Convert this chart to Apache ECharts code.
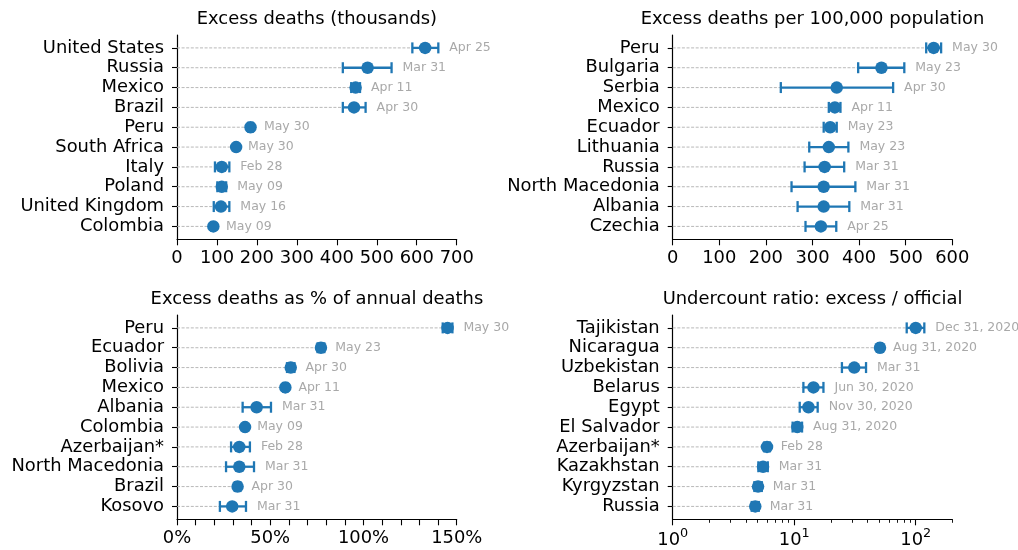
<!DOCTYPE html>
<html><head><meta charset="utf-8">
<script src="https://cdn.jsdelivr.net/npm/echarts@6/dist/echarts.min.js"></script>
<style>html,body{margin:0;padding:0;background:#fff}#c{width:1018px;height:550px}</style>
</head><body><div id="c"></div>
<script>
// Panel 1: Excess deaths (thousands)
const names1 = ['United States','Russia','Mexico','Brazil','Peru','South Africa','Italy','Poland','United Kingdom','Colombia'];
const vals1  = [621, 477, 447, 443, 184, 148, 112, 112, 110, 91];
const lo1    = [589, 415, 436, 415, 178, 146, 95, 101, 92, 86];
const hi1    = [654, 537, 458, 472, 190, 150, 131, 123, 131, 95];
const dates1 = ['Apr 25','Mar 31','Apr 11','Apr 30','May 30','May 30','Feb 28','May 09','May 16','May 09'];

// Panel 2: Excess deaths per 100,000 population
const names2 = ['Peru','Bulgaria','Serbia','Mexico','Ecuador','Lithuania','Russia','North Macedonia','Albania','Czechia'];
const vals2  = [560, 448, 352, 348, 338, 335, 326, 324, 324, 318];
const lo2    = [544, 398, 232, 335, 324, 293, 283, 255, 268, 285];
const hi2    = [576, 497, 473, 360, 352, 377, 368, 392, 379, 351];
const dates2 = ['May 30','May 23','Apr 30','Apr 11','May 23','May 23','Mar 31','Mar 31','Mar 31','Apr 25'];

// Panel 3: Excess deaths as % of annual deaths
const names3 = ['Peru','Ecuador','Bolivia','Mexico','Albania','Colombia','Azerbaijan*','North Macedonia','Brazil','Kosovo'];
const vals3  = [145.1, 77.2, 61, 58.1, 42.7, 36.5, 33.4, 33.4, 32.5, 29.6];
const lo3    = [142.5, 75.4, 59, 57, 35.2, 35.9, 29, 26.3, 31, 23];
const hi3    = [147.7, 79, 63, 59.2, 50.4, 37.1, 39.1, 41.3, 34, 37];
const dates3 = ['May 30','May 23','Apr 30','Apr 11','Mar 31','May 09','Feb 28','Mar 31','Apr 30','Mar 31'];

// Panel 4: Undercount ratio: excess / official
const names4 = ['Tajikistan','Nicaragua','Uzbekistan','Belarus','Egypt','El Salvador','Azerbaijan*','Kazakhstan','Kyrgyzstan','Russia'];
const vals4  = [100, 50.8, 31.2, 14.4, 13.1, 10.6, 5.97, 5.54, 5.04, 4.78];
const lo4    = [84.3, 49, 24.7, 11.9, 11.1, 9.7, 5.65, 5.07, 4.7, 4.47];
const hi4    = [117.7, 52.8, 39, 17.4, 15.6, 11.6, 6.3, 6.06, 5.41, 5.11];
const dates4 = ['Dec 31, 2020','Aug 31, 2020','Mar 31','Jun 30, 2020','Nov 30, 2020','Aug 31, 2020','Feb 28','Mar 31','Mar 31','Mar 31'];

const titles = ['Excess deaths (thousands)','Excess deaths per 100,000 population','Excess deaths as % of annual deaths','Undercount ratio: excess / official'];
const logMajor = [1, 10, 100];
const logMinor = [2,3,4,5,6,7,8,9,20,30,40,50,60,70,80,90,200];

const FONT = '"DejaVu Sans", sans-serif';
const BLUE = '#1f77b4';
const FS = 17.9;

const panels = [
  {names:names1, vals:vals1, lo:lo1, hi:hi1, dates:dates1, xmin:0},
  {names:names2, vals:vals2, lo:lo2, hi:hi2, dates:dates2, xmin:0},
  {names:names3, vals:vals3, lo:lo3, hi:hi3, dates:dates3, xmin:0},
  {names:names4, vals:vals4, lo:lo4, hi:hi4, dates:dates4, xmin:1}
];

const grids = [
  {left:177, top:35, width:279.7, height:204.3},
  {left:672.7, top:35, width:279.6, height:204.3},
  {left:177, top:315, width:279.7, height:204.3},
  {left:672.7, top:315, width:279.6, height:204.3}
];

const rowIdx = [0,1,2,3,4,5,6,7,8,9];

const baseX = {
  axisLine:{show:true, onZero:false, lineStyle:{color:'#000', width:1.2}},
  axisTick:{show:true, length:6, lineStyle:{color:'#000', width:1.1}},
  splitLine:{show:false},
  axisLabel:{color:'#000', fontSize:FS, fontFamily:FONT, margin:10}
};

const xAxes = [
  Object.assign({}, baseX, {gridIndex:0, type:'value', min:0, max:700, interval:100}),
  Object.assign({}, baseX, {gridIndex:1, type:'value', min:0, max:600, interval:100}),
  Object.assign({}, baseX, {gridIndex:2, type:'value', min:0, max:150, interval:10,
    axisLabel:Object.assign({}, baseX.axisLabel, {formatter: v => (v % 50 === 0 ? v + '%' : '')})}),
  Object.assign({}, baseX, {gridIndex:3, type:'log', logBase:10, min:1, max:200, position:'bottom',
    axisTick:Object.assign({}, baseX.axisTick, {customValues:logMajor}),
    axisLabel:Object.assign({}, baseX.axisLabel, {customValues:logMajor, margin:8,
      formatter: v => '{b|10}{s|' + Math.round(Math.log10(v)) + '}',
      rich:{b:{fontSize:FS, fontFamily:FONT, color:'#000', lineHeight:22, verticalAlign:'bottom'},
            s:{fontSize:12.8, fontFamily:FONT, color:'#000', lineHeight:13, verticalAlign:'top'}}})}),
  {gridIndex:3, type:'log', logBase:10, min:1, max:200, position:'bottom',
    axisLine:{show:false, onZero:false}, splitLine:{show:false}, axisLabel:{show:false},
    axisTick:{show:true, length:3.5, customValues:logMinor, lineStyle:{color:'#000', width:0.9}}}
];

const yAxes = panels.map((p, i) => ({
  gridIndex:i, type:'value', min:-0.65, max:9.65,
  axisLine:{show:true, onZero:false, lineStyle:{color:'#000', width:1.2}},
  splitLine:{show:false},
  axisTick:{show:true, length:5, customValues:rowIdx, lineStyle:{color:'#000', width:1.1}},
  axisLabel:{customValues:rowIdx, color:'#000', fontSize:FS, fontFamily:FONT, margin:13,
    formatter: v => p.names[p.names.length - 1 - Math.round(v)]}
}));

const series = [];
panels.forEach((p, i) => {
  const n = p.names.length;
  series.push({
    type:'custom', xAxisIndex:i, yAxisIndex:i, z:1, silent:true,
    data: p.vals.map((v, k) => [v, n - 1 - k]),
    renderItem: (params, api) => {
      const y = api.value(1);
      const a = api.coord([p.xmin, y]);
      const b = api.coord([api.value(0), y]);
      return {type:'line', shape:{x1:a[0], y1:a[1], x2:b[0], y2:b[1]},
        style:{stroke:'#b0b0b0', lineWidth:0.9, lineDash:[3,1.6]}};
    }
  });
  series.push({
    type:'custom', xAxisIndex:i, yAxisIndex:i, z:2, silent:true,
    data: p.lo.map((l, k) => [l, p.hi[k], n - 1 - k]),
    renderItem: (params, api) => {
      const y = api.value(2);
      const a = api.coord([api.value(0), y]);
      const b = api.coord([api.value(1), y]);
      const st = {stroke:BLUE, lineWidth:2.3};
      const ch = 5.5;
      return {type:'group', children:[
        {type:'line', shape:{x1:a[0], y1:a[1], x2:b[0], y2:b[1]}, style:st},
        {type:'line', shape:{x1:a[0], y1:a[1]-ch, x2:a[0], y2:a[1]+ch}, style:st},
        {type:'line', shape:{x1:b[0], y1:b[1]-ch, x2:b[0], y2:b[1]+ch}, style:st},
        {type:'text', x:b[0] + 11, y:b[1], style:{text:p.dates[params.dataIndex], fill:'#a9a9a9',
          font:'12.5px ' + FONT, align:'left', verticalAlign:'middle'}}
      ]};
    }
  });
  series.push({
    type:'scatter', xAxisIndex:i, yAxisIndex:i, z:3, silent:true,
    symbol:'circle', symbolSize:12.5, itemStyle:{color:BLUE, opacity:1},
    data: p.vals.map((v, k) => [v, n - 1 - k])
  });
});

const centers = [[316.9, 19.5], [812.5, 19.5], [316.9, 299.5], [812.5, 299.5]];
const graphic = titles.map((t, i) => ({
  type:'text', x:centers[i][0], y:centers[i][1],
  style:{text:t, fill:'#000', font:FS + 'px ' + FONT, align:'center', verticalAlign:'middle'}
}));

const chart = echarts.init(document.getElementById('c'), null, {renderer:'canvas'});
chart.setOption({
  animation:false,
  grid:grids,
  xAxis:xAxes,
  yAxis:yAxes,
  series:series,
  graphic:graphic
});
</script>
</body></html>
